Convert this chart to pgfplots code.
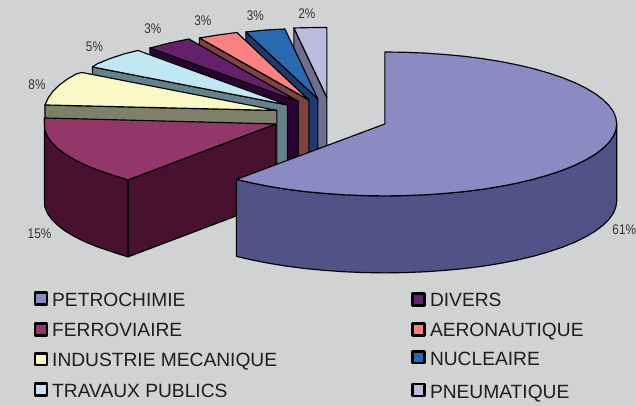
\documentclass[border=0pt]{standalone}
\usepackage{pgfplots}
\pgfplotsset{compat=1.18}
\usepackage{fontspec}
\setmainfont{Liberation Sans}
\definecolor{bgc}{HTML}{D1D2D4}
\definecolor{aT}{HTML}{8A8BC3}\definecolor{aS}{HTML}{505288}
\definecolor{bT}{HTML}{93376B}\definecolor{bS}{HTML}{47112F}
\definecolor{cT}{HTML}{FBF8C8}\definecolor{cS}{HTML}{7F806A}
\definecolor{dT}{HTML}{C1E7F2}\definecolor{dS}{HTML}{63828A}
\definecolor{eT}{HTML}{64206B}\definecolor{eS}{HTML}{2B0333}
\definecolor{fT}{HTML}{F98181}\definecolor{fS}{HTML}{7D4343}
\definecolor{gT}{HTML}{2A69B0}\definecolor{gS}{HTML}{1E3A6E}
\definecolor{hT}{HTML}{BDBCDF}\definecolor{hS}{HTML}{6E6E90}
\definecolor{txt}{HTML}{1E1E1E}\definecolor{pct}{HTML}{333333}
\tikzset{
  leg/.style={only marks, mark=square*, mark size=6pt, mark options={line width=2.7pt, draw=black, fill=#1}},
  lab/.style={anchor=base west, text=txt, inner sep=0pt, font=\fontsize{19.2}{20}\selectfont},
  pc/.style={text=pct, inner sep=0pt, font=\fontsize{14}{15}\selectfont, xscale=0.84},
}
\begin{document}
\begin{tikzpicture}
\begin{axis}[
  scale only axis, width=636pt, height=406pt,
  xmin=0, xmax=636, ymin=0, ymax=406, y dir=reverse,
  hide axis, clip=false,
  every axis plot/.append style={line width=1.15pt, draw=black, line join=round},
]
\addplot[fill=bgc, draw=none] coordinates {(0,0)(636,0)(636,406)(0,406)} --cycle;

% PNEUMATIQUE
\addplot[fill=hS] coordinates {(294,28)(327,97.5)(327,174.5)(294,105)} --cycle;
\addplot[fill=hT] coordinates {(327,97.5)(294,28)(311,27.6)(327,27.5)} --cycle;
% NUCLEAIRE
\addplot[fill=gS] coordinates {(246,32)(318,99)(318,176)(246,109)} --cycle;
\addplot[fill=gT] coordinates {(318,99)(246,32)(266,30)(285,29)} --cycle;
% AERONAUTIQUE
\addplot[fill=fS] coordinates {(199.5,38)(309,100)(309,177)(199.5,115)} --cycle;
\addplot[fill=fT] coordinates {(309,100)(199.5,38)(218,35)(237,32.5)} --cycle;
% DIVERS
\addplot[fill=eS] coordinates {(150,48)(298.5,101.5)(298.5,178.5)(150,125)} --cycle;
\addplot[fill=eT] coordinates {(298.5,101.5)(150,48)(169.5,43)(189,39)} --cycle;
% TRAVAUX PUBLICS
\addplot[fill=dS] coordinates {(92.5,67)(287.5,105)(287.5,182)(92.5,144)} --cycle;
\addplot[fill=dT] coordinates {(287.5,105)(92.5,67)(97.5,63.7)(109.8,58.7)(123.5,54.1)(138,50.5)} --cycle;
% INDUSTRIE MECANIQUE
\addplot[fill=cS] coordinates {(45,105)(277,110.5)(277,187.5)(45,182)} --cycle;
\addplot[fill=cT] coordinates {(277,110.5)(45,105)(48.5,97.5)(52.9,91.4)(59,85.4)(66.7,79.6)(76.1,74)(82,72.5)} --cycle;
% FERROVIAIRE
\addplot[fill=bS] coordinates {(276,124)(128,180)(128,257)(276,201)} --cycle;
\addplot[fill=bS] coordinates {(128,180)(112,174.9)(98.3,170.3)(86,165.3)(75.1,160)(65.7,154.4)(58,148.6)(51.9,142.6)(47.5,136.5)(44.9,130.3)(44.5,124)(44.5,118)
  (44.5,201)(44.9,207.3)(47.5,213.5)(51.9,219.6)(58,225.6)(65.7,231.4)(75.1,237)(86,242.3)(98.3,247.3)(112,251.9)(128,257)} --cycle;
\addplot[fill=bT] coordinates {(276,124)(128,180)(112,174.9)(98.3,170.3)(86,165.3)(75.1,160)(65.7,154.4)(58,148.6)(51.9,142.6)(47.5,136.5)(44.9,130.3)(44.5,124)(44.5,118)} --cycle;
% PETROCHIMIE
\addplot[fill=aS] coordinates {(617,124)(616.1,130.3)(613.5,136.5)(609.1,142.6)(603,148.6)(595.3,154.4)(585.9,160)(575.1,165.3)(562.7,170.3)(549,174.9)(534.1,179.2)(518.1,183)(501,186.4)(483,189.3)(464.3,191.7)(445,193.5)(425.3,194.9)(405.2,195.7)(385,196)(364.8,195.7)(344.7,194.9)(325,193.5)(305.7,191.7)(287,189.3)(269,186.4)(251.9,183)(236.5,179.5)
  (236.5,256.5)(251.9,260)(269,263.4)(287,266.3)(305.7,268.7)(325,270.5)(344.7,271.9)(364.8,272.7)(385,273)(405.2,272.7)(425.3,271.9)(445,270.5)(464.3,268.7)(483,266.3)(501,263.4)(518.1,260)(534.1,256.2)(549,251.9)(562.7,247.3)(575.1,242.3)(585.9,237)(595.3,231.4)(603,225.6)(609.1,219.6)(613.5,213.5)(616.1,207.3)(617,201)} --cycle;
\addplot[fill=aT] coordinates {(385,124)(385,52)(405.2,52.3)(425.3,53.1)(445,54.5)(464.3,56.3)(483,58.7)(501,61.6)(518.1,65)(534.1,68.8)(549,73.1)(562.7,77.7)(575.1,82.7)(585.9,88)(595.3,93.6)(603,99.4)(609.1,105.4)(613.5,111.5)(616.1,117.7)(617,124)(616.1,130.3)(613.5,136.5)(609.1,142.6)(603,148.6)(595.3,154.4)(585.9,160)(575.1,165.3)(562.7,170.3)(549,174.9)(534.1,179.2)(518.1,183)(501,186.4)(483,189.3)(464.3,191.7)(445,193.5)(425.3,194.9)(405.2,195.7)(385,196)(364.8,195.7)(344.7,194.9)(325,193.5)(305.7,191.7)(287,189.3)(269,186.4)(251.9,183)(236.5,179.5)} --cycle;

% legend squares
\addplot[leg=aT] coordinates {(41,298.5)};
\addplot[leg=bT] coordinates {(41,329.3)};
\addplot[leg=cT] coordinates {(41,359.3)};
\addplot[leg=dT] coordinates {(41,390)};
\addplot[leg=eT] coordinates {(419,299.3)};
\addplot[leg=fT] coordinates {(419,329.3)};
\addplot[leg=gT] coordinates {(419,357.3)};
\addplot[leg=hT] coordinates {(419,390.3)};

\node[lab] at (axis cs:52,306.7) {PETROCHIMIE};
\node[lab] at (axis cs:52,336.7) {FERROVIAIRE};
\node[lab] at (axis cs:52,367) {INDUSTRIE MECANIQUE};
\node[lab] at (axis cs:52,397.2) {TRAVAUX PUBLICS};
\node[lab] at (axis cs:430,307) {DIVERS};
\node[lab] at (axis cs:430,337) {AERONAUTIQUE};
\node[lab] at (axis cs:430,365.7) {NUCLEAIRE};
\node[lab] at (axis cs:430,398.2) {PNEUMATIQUE};

\node[pc] at (axis cs:37,84.5) {8\%};
\node[pc] at (axis cs:94.5,47) {5\%};
\node[pc] at (axis cs:153,29) {3\%};
\node[pc] at (axis cs:203,21) {3\%};
\node[pc] at (axis cs:255.5,16) {3\%};
\node[pc] at (axis cs:307,14) {2\%};
\node[pc] at (axis cs:39.5,234) {15\%};
\node[pc] at (axis cs:624.5,230) {61\%};
\end{axis}
\end{tikzpicture}
\end{document}
